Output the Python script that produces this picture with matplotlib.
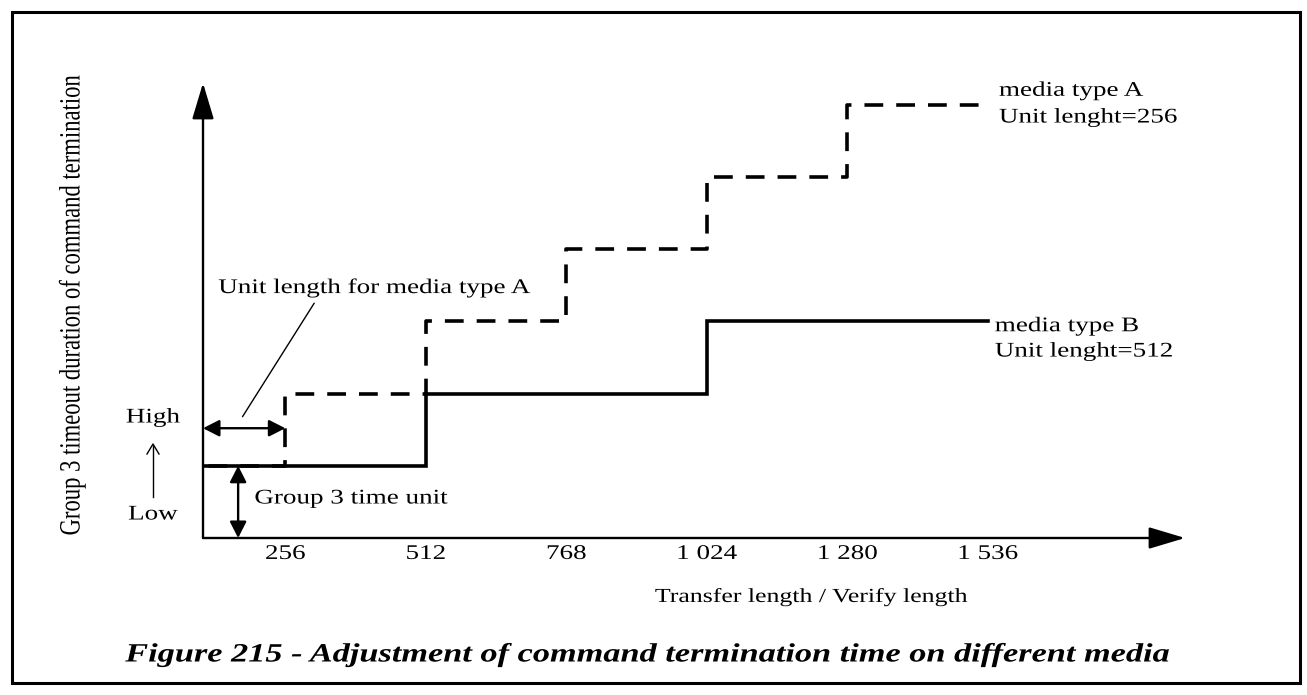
import numpy as np
import matplotlib.pyplot as plt
from matplotlib.patches import Rectangle
from matplotlib.patheffects import AbstractPathEffect
from matplotlib.transforms import Affine2D

plt.rcParams['font.family'] = ['Liberation Serif', 'DejaVu Serif']

# --- dados do diagrama ---
x_ticks = [256, 512, 768, 1024, 1280, 1536]
tick_labels = ['256', '512', '768', '1 024', '1 280', '1 536']

# media type A: unidade de 256 -> um degrau a cada 256
a_edges = [0, 256, 512, 768, 1024, 1280, 1536]
a_levels = [1, 2, 3, 4, 5, 6]
# media type B: unidade de 512
b_edges = [0, 512, 1024, 1536]
b_levels = [1, 2, 3]

unit_a = 256
time_unit = 1

W, H = 1307, 695
SX = 1.3  # o texto do original é mais largo que Times


class Wide(AbstractPathEffect):
    """Alarga o texto na horizontal (em pixels) em torno de um ponto da linha."""

    def __init__(self, sx=SX, frac=0.0):
        super().__init__()
        self.sx = sx
        self.frac = frac

    def draw_path(self, renderer, gc, tpath, affine, rgbFace=None):
        ext = tpath.get_extents()
        x0, y0 = affine.transform((ext.x0 + self.frac * ext.width, 0))
        aff = affine + Affine2D().translate(-x0, -y0).scale(self.sx, 1).translate(x0, y0)
        renderer.draw_path(gc, tpath, aff, rgbFace)


LEFT = [Wide(SX, 0.0)]
CENTER = [Wide(SX, 0.5)]


def fpx(px, py):
    # pixel (origem no topo) -> fração da figura
    return px / W, 1 - py / H


fig = plt.figure(figsize=(W / 100, H / 100), dpi=100)

# eixos: origem em (203, 538) px, ~0.549 px por unidade de comprimento
ax = fig.add_axes([203 / W, 1 - 538 / H, (1185 - 203) / W, (538 - 83) / H])
ax.set_xlim(106, 1895)
ax.set_ylim(0, 6.3)
for s in ax.spines.values():
    s.set_visible(False)
ax.set_yticks([])
ax.set_xticks(x_ticks, tick_labels, fontsize=15)
ax.tick_params(axis='x', length=0, pad=5)
for t in ax.get_xticklabels():
    t.set_path_effects(CENTER)

# setas dos eixos
arrow_kw = dict(arrowstyle='-|>,head_length=1.4,head_width=0.42', mutation_scale=16,
                lw=1.7, color='black', shrinkA=0, shrinkB=0)
ax.annotate('', xy=(1, 0), xytext=(0, 0), xycoords='axes fraction',
            textcoords='axes fraction', arrowprops=arrow_kw)
ax.annotate('', xy=(0, 1), xytext=(0, 0), xycoords='axes fraction',
            textcoords='axes fraction', arrowprops=arrow_kw)

# degraus
ax.step(a_edges, a_levels + [a_levels[-1]], where='post', color='black', lw=2.6,
        dashes=(5.2, 3.6), solid_joinstyle='miter')
ax.step(b_edges, b_levels + [b_levels[-1]], where='post', color='black', lw=2.6,
        solid_joinstyle='miter')

# rótulos das séries
ax.annotate('media type A\nUnit lenght=256', xy=(a_edges[-1], a_levels[-1]),
            xytext=(8, 0), textcoords='offset points', va='center', ha='left',
            fontsize=15, linespacing=1.55, path_effects=LEFT)
ax.annotate('media type B\nUnit lenght=512', xy=(b_edges[-1], b_levels[-1]),
            xytext=(5, -13), textcoords='offset points', va='center', ha='left',
            fontsize=15, linespacing=1.45, path_effects=LEFT)

# comprimento da unidade (A)
small_kw = dict(arrowstyle='<|-|>,head_length=0.55,head_width=0.28', mutation_scale=18,
                lw=1.7, color='black', shrinkA=0, shrinkB=0)
ax.annotate('', xy=(unit_a, 1.52), xytext=(0, 1.52), xycoords='data',
            textcoords=('axes fraction', 'data'), arrowprops=small_kw)
ax.annotate('Unit length for media type A', xy=(178, 1.68), xytext=(134, 3.46),
            ha='left', va='center', fontsize=15, path_effects=LEFT,
            arrowprops=dict(arrowstyle='-', lw=1.0, color='black',
                            relpos=(0.41, 0), shrinkA=2, shrinkB=0))

# unidade de tempo do grupo 3
ax.annotate('', xy=(170, time_unit), xytext=(170, 0), arrowprops=small_kw)
ax.text(200, 0.54, 'Group 3 time unit', ha='left', va='center', fontsize=15,
        path_effects=LEFT)

# High / Low
fig.text(*fpx(153, 418), 'High', ha='center', va='center', fontsize=15, path_effects=CENTER)
fig.text(*fpx(153, 515), 'Low', ha='center', va='center', fontsize=15, path_effects=CENTER)
fig.add_artist(plt.Line2D([153 / W, 153 / W], [1 - 497 / H, 1 - 446 / H], lw=1.0, color='black'))
fig.add_artist(plt.Line2D([147 / W, 153 / W, 159 / W], [1 - 454 / H, 1 - 444 / H, 1 - 454 / H],
                          lw=1.0, color='black'))

# títulos dos eixos
fig.text(*fpx(74, 305), 'Group 3 timeout duration of command termination',
         rotation=90, ha='center', va='center', fontsize=16.3, path_effects=CENTER)
fig.text(*fpx(655, 597), 'Transfer length / Verify length', ha='left', va='center',
         fontsize=14.3, path_effects=LEFT)

fig.text(*fpx(648, 655), 'Figure 215 - Adjustment of command termination time on different media',
         ha='center', va='center', fontsize=19, fontweight='bold', fontstyle='italic',
         path_effects=CENTER)

# moldura
fig.add_artist(Rectangle((12 / W, 1 - 683 / H), (1300 - 12) / W, (683 - 12) / H,
                         fill=False, lw=2.2, edgecolor='black', transform=fig.transFigure))

fig.savefig('out.png', dpi=100)
